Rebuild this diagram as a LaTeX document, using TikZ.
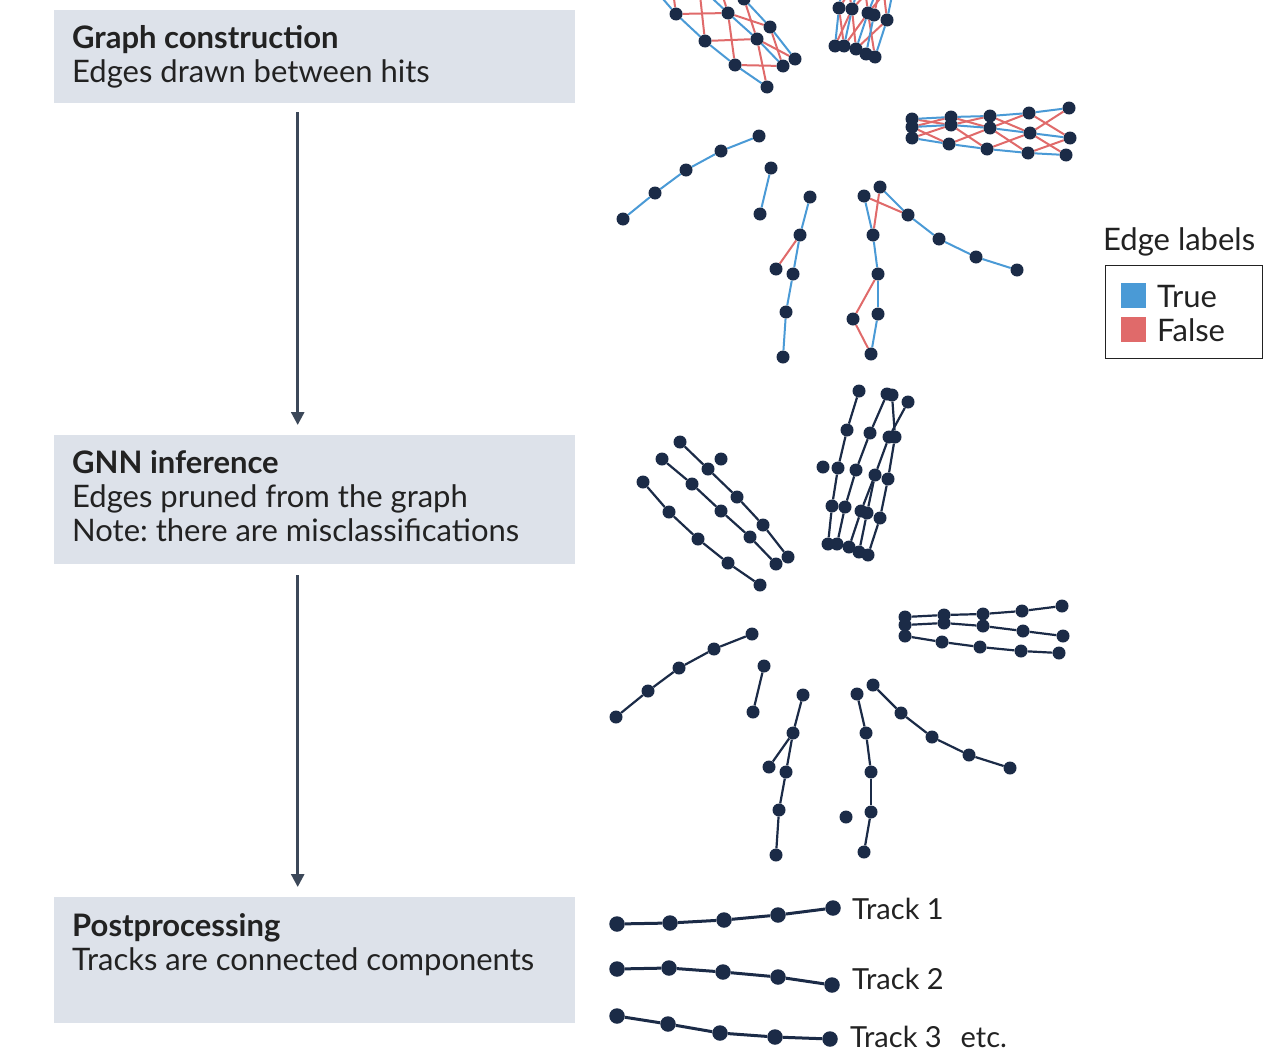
\documentclass[tikz,border=0pt]{standalone}
\usepackage{fontspec}
\setmainfont{Lato}
\frenchspacing
\usetikzlibrary{arrows.meta,positioning}

\definecolor{boxgrey}{HTML}{DDE2EA}
\definecolor{hitnavy}{HTML}{1B2B47}
\definecolor{trueblue}{HTML}{4A9AD6}
\definecolor{falsered}{HTML}{E06A6A}
\definecolor{arrowgrey}{HTML}{3C4859}
\definecolor{textgrey}{HTML}{222222}

\pgfdeclarelayer{background}
\pgfsetlayers{background,main}

% hits, as placed in the GNN panel
\def\hitlist{L1/616/717, L2/648/691, L3/679/668, L4/714/649, L5/752/634,
  S1/764/666, S2/753/712,
  M1/803/695, M2/793/733, M3/786/772, M4/779/810, M5/776/855, Mx/769/767,
  N1/857/694, N2/866/733, N3/871/772, N4/871/812, N5/864/852, Nx/846/817,
  D1/873/685, D2/901/713, D3/932/737, D4/969/755, D5/1010/768,
  H11/905/617, H12/944/615, H13/983/614, H14/1022/611, H15/1062/606,
  H21/905/625, H22/944/623, H23/983/626, H24/1023/631, H25/1063/636,
  H31/905/636, H32/942/642, H33/980/647, H34/1021/651, H35/1059/653,
  Ta1/680/442, Ta2/708/469, Ta3/737/497, Ta4/763/525, Ta5/788/557,
  Tb1/662/459, Tb2/692/484, Tb3/721/511, Tb4/750/537, Tb5/776/564,
  Tc1/643/482, Tc2/669/512, Tc3/698/539, Tc4/728/563, Tc5/760/585,
  Tx/721/459,
  Ra1/859/391, Ra2/847/430, Ra3/838/468, Ra4/832/506, Ra5/828/544,
  Rb1/887/394, Rb2/870/433, Rb3/856/470, Rb4/845/507, Rb5/837/544,
  Rc1/908/402, Rc2/889/437, Rc3/875/475, Rc4/861/511, Rc5/849/547,
  Rd1/892/395, Rd2/895/437, Rd3/888/479, Rd4/880/518, Rd5/868/555,
  Re4/867/513, Re5/859/552, Rx/823/467}

\begin{document}
\begin{tikzpicture}[x=1pt,y=-1pt,
    stepbox/.style={fill=boxgrey, draw=none, minimum width=521pt, anchor=north west},
    headtext/.style={anchor=base west, inner sep=0pt, text=textgrey, font=\fontsize{31}{36}\selectfont\bfseries},
    body/.style={anchor=base west, inner sep=0pt, text=textgrey, font=\fontsize{31}{36}\selectfont},
    tracktext/.style={anchor=west, inner sep=0pt, text=textgrey, font=\fontsize{29}{34}\selectfont},
    flow/.style={line width=2.8pt, draw=arrowgrey, -{Triangle[width=13pt,length=13pt]}},
    hit/.style={circle, fill=hitnavy, inner sep=0pt, minimum size=13pt},
    bighit/.style={circle, fill=hitnavy, inner sep=0pt, minimum size=15.5pt},
    trueedge/.style={draw=trueblue, line width=2pt},
    fakeedge/.style={draw=falsered, line width=2pt},
    pruned/.style={draw=hitnavy, line width=2.2pt},
    trackline/.style={draw=hitnavy, line width=3pt}]

  \begin{pgfonlayer}{background}
    \fill[white] (0,0) rectangle (1281,1052);
  \end{pgfonlayer}
  \useasboundingbox (0,0) rectangle (1281,1052);

  % Step boxes
  \node[stepbox, minimum height=93pt] (box1) at (54,10) {};
  \node[stepbox, minimum height=129pt] (box2) at (54,435) {};
  \node[stepbox, minimum height=126pt] (box3) at (54,897) {};

  \node[headtext] (gc) at (72,48) {Graph construction};
  \node[body] (gcnote) at (72,82) {Edges drawn between hits};
  \node[headtext] (gnn) at (72,473) {GNN inference};
  \node[body] (gnnnote1) at (72,507) {Edges pruned from the graph};
  \node[body] (gnnnote2) at (72,541) {Note: there are misclassifications};
  \node[headtext] (post) at (72,936) {Postprocessing};
  \node[body] (postnote) at (72,970) {Tracks are connected components};

  % Arrows between steps
  \draw[flow] ([xshift=-17pt,yshift=-9pt]box1.south) -- ([xshift=-17pt,yshift=10pt]box2.north);
  \draw[flow] ([xshift=-17pt,yshift=-11pt]box2.south) -- ([xshift=-17pt,yshift=10pt]box3.north);

  % Graph construction: all candidate edges
  \begin{scope}
    \clip (580,0) rectangle (1100,380);
    \foreach \n/\x/\y in \hitlist {
      \node[hit] (t\n) at (\x+7,\y-498) {};
    }
  \end{scope}
  \begin{pgfonlayer}{background}
    \begin{scope}
      \clip (580,0) rectangle (1100,380);
      \foreach \a/\b in {Ta/Tb,Tb/Tc,H1/H2,H2/H3,Ra/Rb,Rb/Rc,Rc/Rd}
        \foreach \i/\j in {1/2,2/3,3/4,4/5} {
          \draw[fakeedge] (t\a\i) -- (t\b\j);
          \draw[fakeedge] (t\b\i) -- (t\a\j);
        }
      \foreach \a/\b in {M2/Mx,N1/D2,D1/N2,N3/Nx,Nx/N5,Rc3/Re4}
        \draw[fakeedge] (t\a) -- (t\b);
      \foreach \tr in {L,M,N,D,H1,H2,H3,Ta,Tb,Tc,Ra,Rb,Rc,Rd}
        \foreach \i/\j in {1/2,2/3,3/4,4/5}
          \draw[trueedge] (t\tr\i) -- (t\tr\j);
      \draw[trueedge] (tS1) -- (tS2);
      \draw[trueedge] (tRe4) -- (tRe5);
    \end{scope}
  \end{pgfonlayer}

  % Edge labels legend
  \node[body] (legtitle) at (1103,250) {Edge labels};
  \node[draw=textgrey, line width=1.2pt, minimum width=157pt, minimum height=93pt, anchor=north west] (legend) at (1105,265) {};
  \node[fill=trueblue, minimum size=25pt, inner sep=0pt, anchor=north west] (sqtrue) at (1121,283) {};
  \node[fill=falsered, minimum size=25pt, inner sep=0pt, anchor=north west] (sqfalse) at (1121,317) {};
  \node[body] (ltrue) at (1157,307) {True};
  \node[body] (lfalse) at (1157,341) {False};

  % GNN inference: edges kept
  \foreach \n/\x/\y in \hitlist {
    \node[hit] (m\n) at (\x,\y) {};
  }
  \begin{pgfonlayer}{background}
    \foreach \tr in {L,M,N,D,H1,H2,H3,Ta,Tb,Tc,Ra,Rb,Rc,Rd}
      \foreach \i/\j in {1/2,2/3,3/4,4/5}
        \draw[pruned] (m\tr\i) -- (m\tr\j);
    \foreach \a/\b in {S1/S2,Re4/Re5,M2/Mx,Rc3/Re4}
      \draw[pruned] (m\a) -- (m\b);
  \end{pgfonlayer}

  % Postprocessing: tracks
  \foreach \x/\y [count=\i] in {617/924, 670/923, 724/920, 778/915, 833/908}
    \node[bighit] (ka\i) at (\x,\y) {};
  \foreach \x/\y [count=\i] in {617/969, 669/968, 723/972, 778/977, 832/985}
    \node[bighit] (kb\i) at (\x,\y) {};
  \foreach \x/\y [count=\i] in {617/1016, 668/1024, 720/1033, 775/1037, 830/1039}
    \node[bighit] (kc\i) at (\x,\y) {};
  \foreach \k in {ka,kb,kc}
    \foreach \i/\j in {1/2,2/3,3/4,4/5}
      \draw[trackline] (\k\i) -- (\k\j);

  \node[tracktext] (track1) at (852,909) {Track 1};
  \node[tracktext] (track2) at (852,979) {Track 2};
  \node[tracktext] (track3) at (850,1037) {Track 3\hspace{19pt}etc.};
\end{tikzpicture}
\end{document}
